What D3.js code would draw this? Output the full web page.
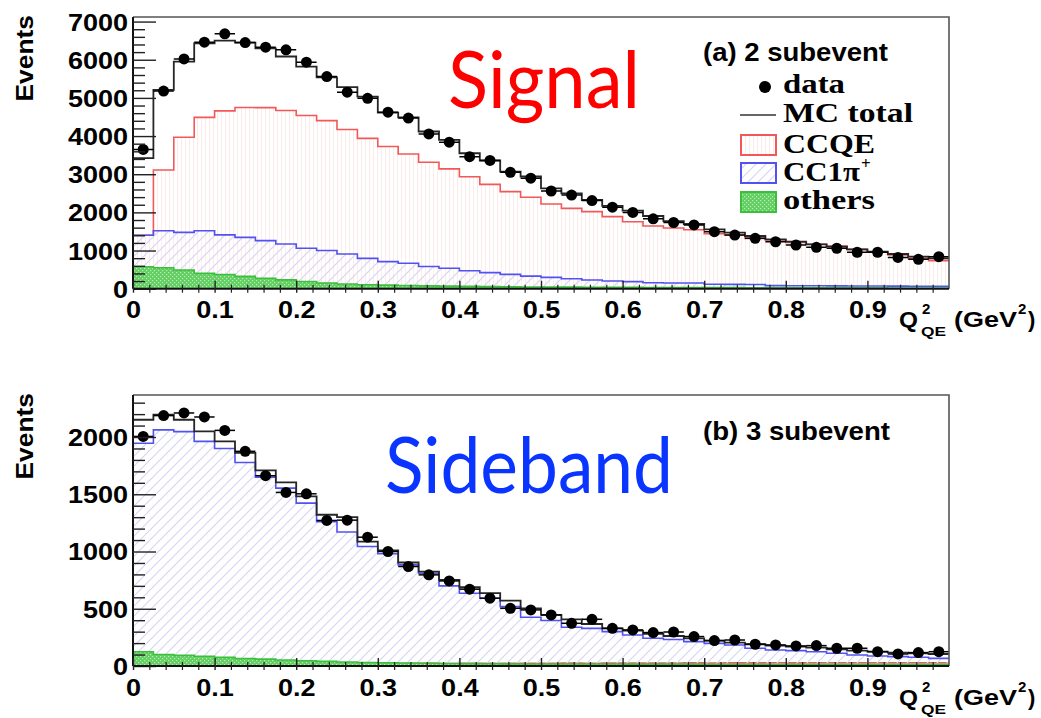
<!DOCTYPE html>
<html>
<head>
<meta charset="utf-8">
<script src="https://cdn.jsdelivr.net/npm/d3@7"></script>
<style>
  body { margin: 0; background: #fff; }
  svg { display: block; }
</style>
</head>
<body>
<svg id="chart" width="1041" height="718"></svg>
<script>
// Q^2_QE histograms, 40 bins of 0.025 GeV^2 from 0 to 1
const binWidth = 0.025;

// (a) 2 subevent sample
const dataA = [3650, 5180, 6020, 6460, 6680, 6450, 6330, 6260, 5935, 5560,
               5150, 4990, 4625, 4470, 4055, 3840, 3460, 3360, 3050, 2895,
               2560, 2455, 2310, 2135, 2000, 1830, 1735, 1670, 1495, 1405,
               1320, 1230, 1145, 1085, 1060, 955, 955, 820, 770, 840];
const mcTotalA = [3420, 5210, 5950, 6430, 6500, 6450, 6300, 6085, 5820, 5540,
                  5280, 5035, 4615, 4490, 4120, 3900, 3550, 3360, 3070, 2940,
                  2630, 2500, 2325, 2170, 2045, 1905, 1770, 1696, 1556, 1468,
                  1381, 1294, 1232, 1163, 1101, 1031, 970, 909, 839, 795];
const ccqeA = [1400, 3110, 3970, 4490, 4660, 4750, 4745, 4670, 4540, 4405,
               4170, 3940, 3725, 3530, 3315, 3140, 2935, 2735, 2545, 2395,
               2220, 2105, 2020, 1890, 1755, 1645, 1590, 1545, 1440, 1400,
               1320, 1275, 1215, 1165, 1120, 1030, 955, 885, 795, 735];
const cc1piA = [1400, 1520, 1475, 1520, 1410, 1345, 1260, 1170, 1060, 1000,
                910, 795, 710, 665, 580, 535, 470, 420, 375, 330,
                297, 262, 227, 200, 185, 157, 150, 150, 115, 114,
                112, 80, 78, 76, 74, 72, 70, 68, 66, 64];
const othersA = [577, 548, 490, 402, 372, 324, 275, 230, 190, 150,
                 125, 105, 95, 84, 75, 67, 60, 55, 50, 46,
                 42, 40, 38, 36, 34, 32, 31, 30, 28, 27,
                 26, 25, 24, 23, 22, 22, 21, 20, 20, 19];

// (b) 3 subevent sample
const dataB = [2005, 2187, 2210, 2175, 2058, 1875, 1662, 1516, 1504, 1271,
               1274, 1125, 1000, 869, 796, 743, 671, 592, 504, 490,
               446, 373, 408, 329, 315, 292, 297, 257, 222, 227,
               190, 184, 175, 178, 155, 155, 125, 105, 117, 125];
const mcTotalB = [2151, 2195, 2151, 2049, 1962, 1862, 1708, 1603, 1481, 1321,
                  1300, 1087, 1009, 904, 825, 752, 688, 636, 571, 504,
                  446, 408, 367, 329, 309, 280, 262, 242, 222, 204,
                  190, 178, 169, 160, 146, 134, 125, 117, 111, 105];
const ccqeB = [70, 24, 23, 22, 21, 22, 21, 20, 21, 21,
               22, 21, 22, 22, 23, 22, 23, 23, 24, 23,
               24, 25, 24, 25, 26, 25, 26, 27, 26, 27,
               27, 28, 27, 28, 28, 29, 28, 29, 29, 29];
const cc1piB = [1945, 2062, 2047, 1962, 1900, 1778, 1650, 1554, 1423, 1260,
                1170, 1044, 980, 883, 810, 700, 636, 592, 519, 426,
                397, 338, 329, 300, 271, 242, 232, 213, 198, 184,
                155, 140, 134, 125, 111, 96, 87, 82, 76, 67];
const othersB = [125, 100, 93, 85, 75, 66, 60, 53, 46, 40,
                 35, 31, 28, 26, 24, 22, 21, 20, 19, 18,
                 18, 17, 17, 17, 16, 16, 16, 16, 15, 15,
                 15, 15, 15, 15, 15, 14, 14, 14, 14, 14];

// Axis ticks and labels
const xTickValues = [0, 0.1, 0.2, 0.3, 0.4, 0.5, 0.6, 0.7, 0.8, 0.9];
const xTickLabels = ["0", "0.1", "0.2", "0.3", "0.4", "0.5", "0.6", "0.7", "0.8", "0.9"];
const yTickValuesA = [0, 1000, 2000, 3000, 4000, 5000, 6000, 7000];
const yTickLabelsA = ["0", "1000", "2000", "3000", "4000", "5000", "6000", "7000"];
const yTickValuesB = [0, 500, 1000, 1500, 2000];
const yTickLabelsB = ["0", "500", "1000", "1500", "2000"];

const legendLabels = ["data", "MC total", "CCQE", "CC1\u03c0", "others"];

const svg = d3.select("#chart");
const defs = svg.append("defs");

// Fill patterns: vertical pink lines, diagonal blue hatch, green dots
const pQE = defs.append("pattern").attr("id", "pat-ccqe")
  .attr("patternUnits", "userSpaceOnUse").attr("width", 4).attr("height", 4);
pQE.append("rect").attr("x", 1).attr("y", 0).attr("width", 1).attr("height", 4).attr("fill", "#fdeaea");

const pPi = defs.append("pattern").attr("id", "pat-cc1pi")
  .attr("patternUnits", "userSpaceOnUse").attr("width", 10).attr("height", 10);
pPi.append("path").attr("d", "M0,10 L10,0 M-2,2 L2,-2 M8,12 L12,8")
  .attr("stroke", "#d6d6f5").attr("stroke-width", 1.2).attr("fill", "none");

const pOth = defs.append("pattern").attr("id", "pat-others")
  .attr("patternUnits", "userSpaceOnUse").attr("width", 4).attr("height", 4);
pOth.append("rect").attr("width", 4).attr("height", 4).attr("fill", "#63cf63");
pOth.append("rect").attr("x", 0).attr("y", 0).attr("width", 1.2).attr("height", 1.2).attr("fill", "#b9ecb9");
pOth.append("rect").attr("x", 2).attr("y", 2).attr("width", 1.2).attr("height", 1.2).attr("fill", "#b9ecb9");

const colors = {
  ccqe: "#f25858",
  cc1pi: "#5252f2",
  others: "#3cbf3c",
  total: "#262626",
  frame: "#555"
};

function stretch(sel, k) {
  sel.each(function () {
    const L = this.getComputedTextLength();
    d3.select(this).attr("textLength", L * k).attr("lengthAdjust", "spacingAndGlyphs");
  });
}

const plotLeft = 133, plotRight = 949;
const x = d3.scaleLinear().domain([0, 1]).range([plotLeft, plotRight]);

function histPoints(vals) {
  const pts = vals.map((v, i) => [i * binWidth, v]);
  pts.push([vals.length * binWidth, vals[vals.length - 1]]);
  return pts;
}

function drawPanel(cfg) {
  const y = d3.scaleLinear().domain([0, cfg.yMax]).range([cfg.yBottom, cfg.yTop]);
  const g = svg.append("g");
  const clipId = "clip-" + cfg.id;
  defs.append("clipPath").attr("id", clipId).append("rect")
    .attr("x", plotLeft).attr("y", cfg.yTop)
    .attr("width", plotRight - plotLeft).attr("height", cfg.yBottom - cfg.yTop);

  const area = d3.area().x(d => x(d[0])).y0(y(0)).y1(d => y(d[1])).curve(d3.curveStepAfter);
  const line = d3.line().x(d => x(d[0])).y(d => y(d[1])).curve(d3.curveStepAfter);

  const plot = g.append("g").attr("clip-path", `url(#${clipId})`);

  // component histograms
  const comps = [
    { vals: cfg.ccqe, fill: "url(#pat-ccqe)", stroke: colors.ccqe },
    { vals: cfg.cc1pi, fill: "url(#pat-cc1pi)", stroke: colors.cc1pi },
    { vals: cfg.others, fill: "url(#pat-others)", stroke: colors.others }
  ];
  comps.forEach(c => {
    plot.append("path").attr("d", area(histPoints(c.vals))).attr("fill", c.fill);
    plot.append("path").attr("d", line(histPoints(c.vals)))
      .attr("fill", "none").attr("stroke", c.stroke).attr("stroke-width", 1.6);
  });

  // MC total outline
  plot.append("path").attr("d", line(histPoints(cfg.total)))
    .attr("fill", "none").attr("stroke", colors.total).attr("stroke-width", 1.8);

  // data points with bin-width bars
  const pts = plot.append("g");
  pts.selectAll("line").data(cfg.data).join("line")
    .attr("x1", (d, i) => x(i * binWidth)).attr("x2", (d, i) => x((i + 1) * binWidth))
    .attr("y1", d => y(d)).attr("y2", d => y(d))
    .attr("stroke", "#000").attr("stroke-width", 1.5);
  pts.selectAll("circle").data(cfg.data).join("circle")
    .attr("cx", (d, i) => x((i + 0.5) * binWidth)).attr("cy", d => y(d))
    .attr("r", 5.5).attr("fill", "#000");

  // frame (top and right)
  g.append("path")
    .attr("d", `M${plotLeft},${cfg.yTop} H${plotRight} V${cfg.yBottom}`)
    .attr("fill", "none").attr("stroke", colors.frame).attr("stroke-width", 1.6);

  // Y axis: long inner major ticks, short minor ticks
  const yMinor = d3.range(0, cfg.yMax, cfg.yMinorStep).filter(v => !cfg.yTicks.includes(v));
  const yAxis = d3.axisLeft(y).tickValues(cfg.yTicks)
    .tickFormat((d, i) => cfg.yLabels[i]).tickSizeInner(-23).tickSizeOuter(0).tickPadding(5);
  const ya = g.append("g").attr("transform", `translate(${plotLeft},0)`).call(yAxis);
  ya.select(".domain").attr("stroke", "#111").attr("stroke-width", 2)
    .attr("d", `M0,${cfg.yTop}V${cfg.yBottom}`);
  ya.selectAll(".tick line").attr("stroke", "#222").attr("stroke-width", 1.4);
  ya.selectAll(".tick text")
    .attr("font-family", "'Liberation Sans', Arial, sans-serif")
    .attr("font-weight", "bold").attr("font-size", 23.5).attr("fill", "#000")
    .attr("dy", "0.36em")
    .call(stretch, 1.15);
  g.append("g").attr("transform", `translate(${plotLeft},0)`)
    .call(d3.axisLeft(y).tickValues(yMinor).tickFormat("").tickSizeInner(-12).tickSizeOuter(0))
    .call(s => s.select(".domain").remove())
    .selectAll(".tick line").attr("stroke", "#222").attr("stroke-width", 1.4);

  // X axis: major ticks every 0.1, minor every 0.02
  const xMinor = d3.range(1, 50).map(k => k * 0.02).filter(v => Math.abs(v * 10 - Math.round(v * 10)) > 1e-6);
  const xAxis = d3.axisBottom(x).tickValues(xTickValues)
    .tickFormat((d, i) => xTickLabels[i]).tickSizeInner(-8).tickSizeOuter(0).tickPadding(13);
  const xa = g.append("g").attr("transform", `translate(0,${cfg.yBottom})`).call(xAxis);
  xa.select(".domain").attr("stroke", "#111").attr("stroke-width", 2)
    .attr("d", `M${plotLeft},0H${plotRight}`);
  xa.selectAll(".tick line").attr("y1", 4).attr("stroke", "#222").attr("stroke-width", 1.4);
  xa.selectAll(".tick text")
    .attr("font-family", "'Liberation Sans', Arial, sans-serif")
    .attr("font-weight", "bold").attr("font-size", 23.5).attr("fill", "#000")
    .call(stretch, 1.15);
  g.append("g").attr("transform", `translate(0,${cfg.yBottom})`)
    .call(d3.axisBottom(x).tickValues(xMinor).tickFormat("").tickSizeInner(-4).tickSizeOuter(0))
    .call(s => s.select(".domain").remove())
    .selectAll(".tick line").attr("y1", 4).attr("stroke", "#222").attr("stroke-width", 1.2);

  // Axis titles
  const sans = "'Liberation Sans', Arial, sans-serif";
  g.append("text")
    .attr("transform", `translate(33,${cfg.yTop - 2}) rotate(-90)`)
    .attr("text-anchor", "end")
    .attr("font-family", sans).attr("font-weight", "bold").attr("font-size", 24)
    .text("Events").call(stretch, 1.1);

  const b = cfg.yBottom + 38.5;
  const t = g.append("g").attr("font-family", sans).attr("font-weight", "bold").attr("fill", "#000");
  t.append("text").attr("x", 899).attr("y", b).attr("font-size", 22).text("Q")
    .attr("textLength", 19).attr("lengthAdjust", "spacingAndGlyphs");
  t.append("text").attr("x", 922).attr("y", b - 13).attr("font-size", 15).text("2");
  t.append("text").attr("x", 921).attr("y", b + 9).attr("font-size", 13).text("QE")
    .attr("textLength", 25).attr("lengthAdjust", "spacingAndGlyphs");
  t.append("text").attr("x", 954).attr("y", b).attr("font-size", 22).text("(GeV")
    .attr("textLength", 63).attr("lengthAdjust", "spacingAndGlyphs");
  t.append("text").attr("x", 1018).attr("y", b - 13).attr("font-size", 15).text("2");
  t.append("text").attr("x", 1028).attr("y", b).attr("font-size", 22).text(")");

  // panel caption
  g.append("text").attr("x", 703).attr("y", cfg.captionY)
    .attr("font-family", sans).attr("font-weight", "bold").attr("font-size", 25)
    .attr("textLength", cfg.captionLen).attr("lengthAdjust", "spacingAndGlyphs")
    .text(cfg.caption);

  // big overlay word
  g.append("text").attr("x", cfg.word.x).attr("y", cfg.word.y)
    .attr("font-family", "Lato, 'Open Sans', sans-serif").attr("font-size", cfg.word.size)
    .attr("fill", cfg.word.color)
    .attr("textLength", cfg.word.len).attr("lengthAdjust", "spacingAndGlyphs")
    .text(cfg.word.text);

  return { g, y };
}

drawPanel({
  id: "a", yMax: 7120, yTop: 17, yBottom: 288.7, yTicks: yTickValuesA, yLabels: yTickLabelsA, yMinorStep: 200,
  data: dataA, total: mcTotalA, ccqe: ccqeA, cc1pi: cc1piA, others: othersA,
  caption: "(a) 2 subevent", captionY: 61, captionLen: 185,
  word: { text: "Signal", x: 448, y: 108, size: 80, color: "#ff0000", len: 192 }
});

drawPanel({
  id: "b", yMax: 2367, yTop: 395, yBottom: 666, yTicks: yTickValuesB, yLabels: yTickLabelsB, yMinorStep: 100,
  data: dataB, total: mcTotalB, ccqe: ccqeB, cc1pi: cc1piB, others: othersB,
  caption: "(b) 3 subevent", captionY: 440, captionLen: 187,
  word: { text: "Sideband", x: 385, y: 493, size: 78, color: "#0a34ff", len: 288 }
});

// Legend for panel (a)
const serif = "'Liberation Serif', 'Times New Roman', serif";
const leg = svg.append("g").attr("font-family", serif).attr("font-weight", "bold").attr("font-size", 27).attr("fill", "#000");
const legText = [93, 122, 153, 181, 209];
const legWidths = [62, 130, 92, 77, 92];
leg.append("circle").attr("cx", 765).attr("cy", 87).attr("r", 6).attr("fill", "#000");
leg.append("line").attr("x1", 740).attr("x2", 776).attr("y1", 115).attr("y2", 115)
  .attr("stroke", "#666").attr("stroke-width", 2);
const boxes = [
  { y: 135, fill: "url(#pat-ccqe)", stroke: colors.ccqe },
  { y: 163, fill: "url(#pat-cc1pi)", stroke: colors.cc1pi },
  { y: 192, fill: "url(#pat-others)", stroke: colors.others }
];
boxes.forEach(bx => {
  leg.append("rect").attr("x", 741).attr("y", bx.y).attr("width", 35).attr("height", 20)
    .attr("fill", bx.fill).attr("stroke", bx.stroke).attr("stroke-width", 2);
});
legendLabels.forEach((lab, i) => {
  leg.append("text").attr("x", 783).attr("y", legText[i]).text(lab)
    .attr("textLength", legWidths[i]).attr("lengthAdjust", "spacingAndGlyphs");
  if (i === 3) {
    leg.append("text").attr("x", 783 + legWidths[i] + 1).attr("y", legText[i] - 12)
      .attr("font-size", 17).text("+");
  }
});
</script>
</body>
</html>
